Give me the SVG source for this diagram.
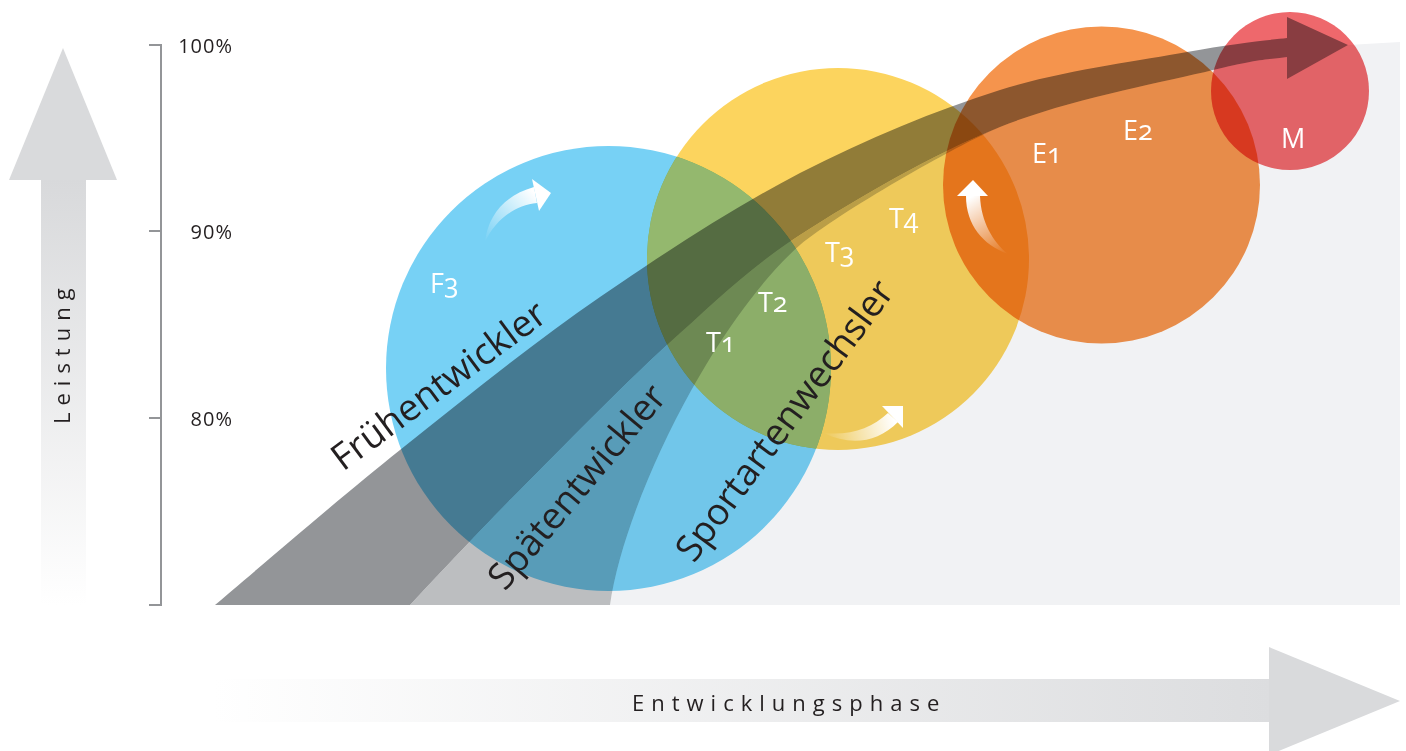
<svg xmlns="http://www.w3.org/2000/svg" width="1406" height="751" viewBox="0 0 1406 751">
<defs>
<style>
.circ{mix-blend-mode:multiply}
.lbl{font-family:"Open Sans","Noto Sans",sans-serif;font-size:27px;fill:#ffffff;font-variant-numeric:oldstyle-nums}
.band{font-family:"Open Sans","Noto Sans",sans-serif;font-size:37px;fill:#231f20}
.axl{font-family:"Open Sans","Noto Sans",sans-serif;font-size:22px;letter-spacing:7px;fill:#231f20}
.pct{font-family:"Open Sans","Noto Sans",sans-serif;font-size:20px;letter-spacing:1px;fill:#231f20}
.tick{stroke:#939598;stroke-width:2;fill:none}
.head{fill:#ffffff}
</style>
<linearGradient id="gUp" x1="0" y1="180" x2="0" y2="605" gradientUnits="userSpaceOnUse">
<stop offset="0" stop-color="#d8d9db"/><stop offset="1" stop-color="#ffffff"/>
</linearGradient>
<linearGradient id="gRight" x1="213" y1="0" x2="1270" y2="0" gradientUnits="userSpaceOnUse">
<stop offset="0" stop-color="#ffffff"/><stop offset="1" stop-color="#dcdddf"/>
</linearGradient>
<linearGradient id="gA1" x1="485" y1="242" x2="536" y2="195" gradientUnits="userSpaceOnUse">
<stop offset="0" stop-color="#ffffff" stop-opacity="0"/><stop offset="1" stop-color="#ffffff"/>
</linearGradient>
<linearGradient id="gA2" x1="824" y1="436" x2="893" y2="417" gradientUnits="userSpaceOnUse">
<stop offset="0" stop-color="#ffffff" stop-opacity="0"/><stop offset="1" stop-color="#ffffff"/>
</linearGradient>
<linearGradient id="gA3" x1="1008" y1="254" x2="973" y2="196" gradientUnits="userSpaceOnUse">
<stop offset="0" stop-color="#ffffff" stop-opacity="0"/><stop offset="1" stop-color="#ffffff"/>
</linearGradient>
<clipPath id="cpBlue"><circle cx="608.5" cy="368.5" r="222.5"/></clipPath>
<clipPath id="cpYellow"><circle cx="838" cy="259" r="191"/></clipPath>
</defs>
<rect width="1406" height="751" fill="#ffffff"/>

<g id="axes">
<path d="M41,180 H86 V605 H41 Z" fill="url(#gUp)"/>
<polygon points="63,48 117,180 9,180" fill="#d9dadc"/>
<text class="axl" transform="translate(70,424) rotate(-90)">Leistung</text>
<path d="M213,679 H1270 V722 H213 Z" fill="url(#gRight)"/>
<polygon points="1269,647 1400,701 1269,755" fill="#d9dadc"/>
<text class="axl" x="632" y="711">Entwicklungsphase</text>
<path class="tick" d="M149,45 H161 V605 H149 M149,231 H161 M149,418 H161"/>
<text class="pct" x="233" y="53" text-anchor="end">100%</text>
<text class="pct" x="233" y="239" text-anchor="end">90%</text>
<text class="pct" x="233" y="426" text-anchor="end">80%</text>
</g>

<g id="fan">
<path id="fan-light" fill="#f1f2f4" d="M610,605 C625,500 715,320 800,245 C840,212 955,146 1000,127 C1069,99 1165,82 1213,70 C1261,58 1275,59 1287,57 L1287,79 L1348,45 L1400,42 L1400,605 Z"/>
<path id="fan-medium" fill="#bcbec0" d="M410,605 C428,586 477,533 520,490 C563,447 620,388 667,345 C714,303 745,271 800,235 C856,199 931,155 1000,127 C955,146 840,212 800,245 C715,320 625,500 610,605 Z"/>
<path id="fan-dark" fill="#939598" d="M215,605 C246,579 336,501 400,450 C464,399 533,343 600,297 C667,251 733,208 800,173 C867,139 936,110 1000,90 C1064,70 1139,61 1187,52 C1235,43 1270,40 1287,38 L1287,17 L1348,45 L1287,79 L1287,57 C1275,59 1261,58 1213,70 C1165,82 1069,99 1000,127 C931,155 856,199 800,235 C745,271 714,303 667,345 C620,388 563,447 520,490 C477,533 428,586 410,605 Z"/>
</g>

<g id="node-F">
<circle class="circ" cx="608.5" cy="368.5" r="222.5" fill="#77d1f5"/>
<text class="lbl" x="430" y="293">F3</text>
</g>
<g id="node-T">
<circle class="circ" cx="838" cy="259" r="191" fill="#fcd45e"/>
<g id="overlap-FT" clip-path="url(#cpBlue)">
<g clip-path="url(#cpYellow)">
<rect x="600" y="100" width="300" height="500" fill="#94b86e"/>
<use href="#fan-light" class="circ"/>
<use href="#fan-medium" class="circ"/>
<use href="#fan-dark" class="circ"/>
</g>
</g>
<text class="lbl" x="706" y="352">T1</text>
<text class="lbl" x="758" y="312">T2</text>
<text class="lbl" x="825" y="262">T3</text>
<text class="lbl" x="889" y="228">T4</text>
</g>
<g id="node-E">
<circle class="circ" cx="1101.5" cy="185" r="158.5" fill="#f5944d"/>
<text class="lbl" x="1032" y="163">E1</text>
<text class="lbl" x="1123" y="140">E2</text>
</g>
<g id="node-M">
<circle class="circ" cx="1290" cy="91" r="79" fill="#ee686c"/>
<text class="lbl" x="1281" y="148">M</text>
</g>

<g id="connectors">
<path fill="url(#gA1)" d="M485,242 C488,215 505,195 534,187 L537,203 C515,205 495,220 485,242 Z"/>
<polygon class="head" points="532,179 551,193 539,211"/>
<path fill="url(#gA2)" d="M824,433 C850,436 872,428 888,413 L898,422 C877,443 850,446 824,433 Z"/>
<polygon class="head" points="882,406 903,406 903,428"/>
<path fill="url(#gA3)" d="M966,196 C966,225 983,245 1008,254 C993,242 981,222 980,196 Z"/>
<polygon class="head" points="973,180 988,196 957,196"/>
</g>

<g id="band-labels">
<text class="band" transform="translate(343,472) rotate(-36.5)">Frühentwickler</text>
<text class="band" transform="translate(505,592) rotate(-50)">Spätentwickler</text>
<text class="band" transform="translate(694,564) rotate(-53.5)">Sportartenwechsler</text>
</g>
</svg>
